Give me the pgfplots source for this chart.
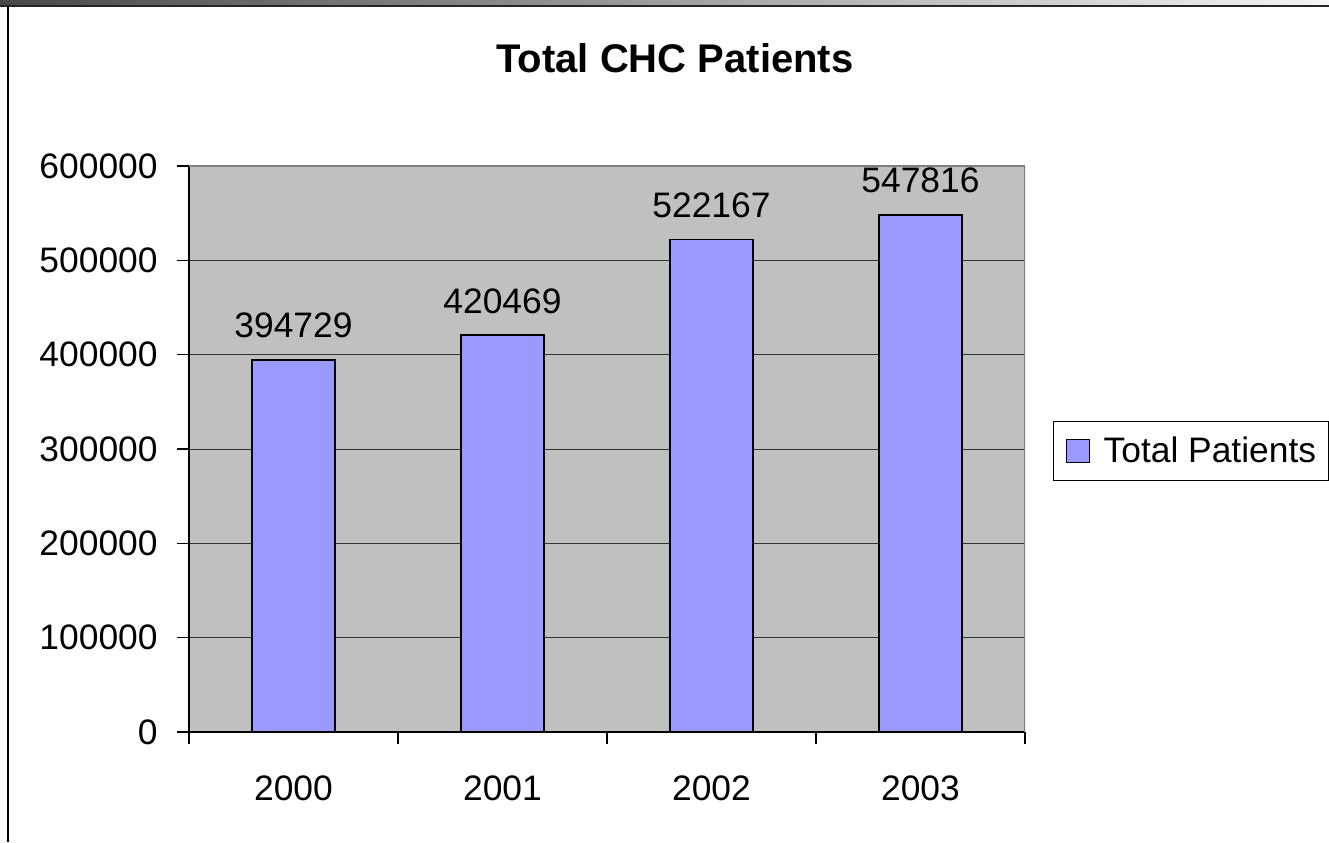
\documentclass[border=0pt]{standalone}
\usepackage{pgfplots}
\pgfplotsset{compat=1.18}
\usepackage{fontspec}
\setmainfont{Liberation Sans}
\definecolor{barblue}{HTML}{9999FF}
\definecolor{plotgray}{HTML}{C0C0C0}
\definecolor{bordergray}{HTML}{808080}
\begin{document}
\begin{tikzpicture}
\useasboundingbox (0,0) rectangle (664.5pt,421pt);
\clip (0,0) rectangle (664.5pt,421pt);
\shade[left color=black!72, right color=black!4] (0,418pt) rectangle (664.5pt,421pt);
\draw[black!85, line width=1pt] (0,418pt) -- (664.5pt,418pt);
\draw[black, line width=0.6pt] (4pt,418pt) -- (4pt,0);
\begin{axis}[
  at={(94.5pt,55pt)}, anchor=south west,
  scale only axis, width=418pt, height=283pt,
  ybar, bar width=41.7pt,
  xmin=-0.5, xmax=3.5, ymin=0, ymax=600000,
  xtick={0,1,2,3}, xticklabels={2000,2001,2002,2003},
  minor xtick={-0.5,0.5,1.5,2.5,3.5},
  ytick={0,100000,...,600000},
  scaled y ticks=false,
  axis lines*=left, axis line style={-, black, line width=0.6pt},
  tick align=outside,
  major tick length=6pt, minor tick length=6pt,
  major x tick style={draw=none},
  tick style={black, line width=0.6pt},
  ymajorgrids, major grid style={black!80, line width=0.5pt},
  axis background/.style={fill=plotgray},
  tick label style={font=\fontsize{17.7}{21}\selectfont},
  xticklabel style={inner sep=0pt, anchor=north, yshift=-15.5pt},
  yticklabel style={inner sep=0pt, anchor=east, xshift=-9.5pt},
  nodes near coords,
  every node near coord/.append style={font=\fontsize{17.7}{21}\selectfont, inner sep=0pt, anchor=south, yshift=10.5pt, black},
  title={Total CHC Patients},
  title style={at={(0.5813,1.170)}, anchor=center, inner sep=0pt, font=\bfseries\fontsize{20}{24}\selectfont},
  legend style={at={(1.0335,0.5495)}, anchor=north west, draw=black, line width=0.6pt, fill=white,
    inner xsep=6pt, inner ysep=7.5pt, font=\fontsize{17.7}{21}\selectfont,
    nodes={inner sep=0pt}, /tikz/every odd column/.append style={column sep=6.7pt}},
  legend image code/.code={\draw[#1, line width=0.8pt] (0pt,-5.75pt) rectangle (11.5pt,5.75pt);},
  /pgf/number format/fixed,
  /pgf/number format/set thousands separator={},
  /pgf/number format/assume math mode=true,
]
\addplot[fill=barblue, draw=black, line width=0.9pt] coordinates {(0,394729) (1,420469) (2,522167) (3,547816)};
\addlegendentry{Total Patients}
\draw[bordergray, line width=1pt] (rel axis cs:0,1) -- (rel axis cs:1,1) -- (rel axis cs:1,0);
\end{axis}
\end{tikzpicture}
\end{document}
